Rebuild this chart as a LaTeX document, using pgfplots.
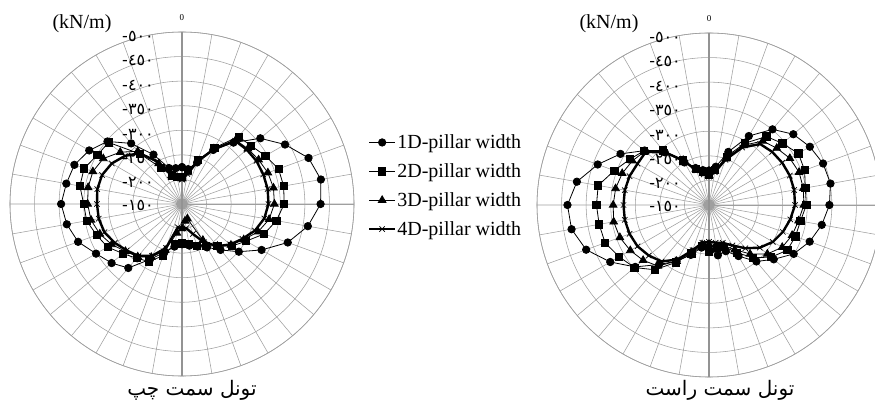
\documentclass[border=0pt]{standalone}
\usepackage{pgfplots}
\pgfplotsset{compat=1.18}
\usepackage{pgfplotstable}
\usepgfplotslibrary{polar}
\usepackage{fontspec}
\setmainfont{Liberation Serif}
\newfontfamily\arabicfont[Script=Arabic]{DejaVu Sans}
\newfontfamily\digitfont{DejaVu Sans}
\TeXXeTstate=1

\pgfplotstableread{
a d1 d2 d3 d4
0 225 205 202 200
10 222 220 215 212
20 240 245 243 242
30 277 282 280 278
40 313 329 320 318
50 358 334 325 322
60 392 346 330 325
70 424 359 336 326
80 437 360 339 327
90 432 358 338 326
100 410 345 330 320
110 379 328 315 308
120 337 301 295 292
130 301 283 280 278
140 272 262 262 262
150 252 248 235 240
160 242 240 182 215
170 236 232 185 200
180 232 230 200 200
190 238 232 210 198
200 255 262 250 245
210 280 285 275 272
220 320 294 290 288
230 337 307 300 297
240 352 325 315 308
250 375 335 328 318
260 388 347 338 322
270 396 350 342 323
280 389 361 344 325
290 383 362 343 323
300 368 349 335 315
310 348 345 314 302
320 311 283 290 285
330 266 235 245 250
340 228 212 212 212
350 224 206 205 205
360 225 205 202 200
}\Ltab

\pgfplotstableread{
a d1 d2 d3 d4
0 220 212 210 208
10 229 222 220 218
20 265 255 250 248
30 312 295 290 285
40 351 332 320 312
50 374 345 330 318
60 387 360 340 322
70 397 357 345 325
80 401 349 345 326
90 395 348 343 325
100 383 339 335 318
110 368 337 330 310
120 349 334 322 300
130 322 315 305 285
140 300 290 280 265
150 270 262 255 245
160 250 240 238 232
170 254 238 235 228
180 240 245 230 225
190 238 235 232 228
200 258 255 252 248
210 282 285 282 278
220 308 322 312 300
230 346 348 325 310
240 382 361 335 318
250 416 375 343 322
260 434 377 347 324
270 438 379 345 324
280 423 379 343 324
290 391 355 338 322
300 358 336 330 318
310 322 322 320 318
320 290 295 292 290
330 250 255 255 255
340 230 228 228 225
350 222 218 216 213
360 220 212 210 208
}\Rtab

\newcommand{\rlab}[3]{\node[anchor=east, xshift=-27pt, yshift=#3, font=\digitfont\fontsize{16}{16}\selectfont, inner sep=1pt] at (axis cs:90,#1) {#2};}
\newcommand{\rlabels}{%
\draw[gray!85, line width=1.1pt] (axis cs:90,350) -- (axis cs:270,350);
\rlab{350}{-٥٠٠}{-4pt}
\rlab{300}{-٤٥٠}{-4pt}
\rlab{250}{-٤٠٠}{-4pt}
\rlab{200}{-٣٥٠}{-4pt}
\rlab{150}{-٣٠٠}{-4pt}
\rlab{100}{-٢٥٠}{-4pt}
\rlab{50}{-٢٠٠}{-3pt}
\rlab{0}{-١٥٠}{-1pt}
\node[anchor=south, yshift=8pt, font=\fontsize{9}{9}\selectfont] at (axis cs:90,350) {0};
}

\pgfplotsset{
  myaxis/.style={
    width=344pt, height=344pt, scale only axis, anchor=center,
    xmin=0, xmax=360, ymin=0, ymax=350,
    xtick={0,10,...,350}, xticklabels={},
    ytick={0,50,...,350}, yticklabels={},
    grid=major, major grid style={draw=gray!75, line width=0.55pt},
    axis line style={draw=gray!75, line width=0.6pt},
    major tick length=0pt, clip=false,
  },
  s1/.style={black, line width=0.8pt, mark=*, mark size=3.7pt},
  s2/.style={black, line width=0.8pt, mark=square*, mark size=3.6pt},
  s3/.style={black, line width=0.8pt, mark=triangle*, mark size=4.4pt},
  s4/.style={black, line width=2.4pt, mark=x, mark size=3.8pt, mark options={line width=0.7pt}},
  legend image code/.code={\draw[mark repeat=2,mark phase=2,#1] plot coordinates {(0pt,0pt) (13pt,0pt) (26pt,0pt)};},
}

\begin{document}
\begin{tikzpicture}
\path[use as bounding box] (0,0) rectangle (875pt,406pt);

\begin{polaraxis}[myaxis, at={(182pt,202pt)},
  legend style={at={(1.04,0.553)}, anchor=west, draw=none, fill=none, inner sep=0pt,
    font=\fontsize{20}{20}\selectfont, row sep=11.5pt, cells={anchor=west},
    nodes={inner sep=1pt}},
  legend cell align=left]
\rlabels
\addplot[s1] table[x expr={90-\thisrow{a}}, y expr={\thisrow{d1}-150}] {\Ltab};
\addplot[s2] table[x expr={90-\thisrow{a}}, y expr={\thisrow{d2}-150}] {\Ltab};
\addplot[s3] table[x expr={90-\thisrow{a}}, y expr={\thisrow{d3}-150}] {\Ltab};
\addplot[s4] table[x expr={90-\thisrow{a}}, y expr={\thisrow{d4}-150}] {\Ltab};
\legend{1D-pillar width, 2D-pillar width, 3D-pillar width, 4D-pillar width}
\end{polaraxis}

\begin{polaraxis}[myaxis, at={(709pt,201pt)}]
\rlabels
\addplot[s1] table[x expr={90-\thisrow{a}}, y expr={\thisrow{d1}-150}] {\Rtab};
\addplot[s2] table[x expr={90-\thisrow{a}}, y expr={\thisrow{d2}-150}] {\Rtab};
\addplot[s3] table[x expr={90-\thisrow{a}}, y expr={\thisrow{d3}-150}] {\Rtab};
\addplot[s4] table[x expr={90-\thisrow{a}}, y expr={\thisrow{d4}-150}] {\Rtab};
\end{polaraxis}

\node[font=\fontsize{20}{20}\selectfont] at (82pt,382pt) {(kN/m)};
\node[font=\fontsize{20}{20}\selectfont] at (609pt,382pt) {(kN/m)};
\node[font=\arabicfont\fontsize{20}{20}\selectfont] at (192pt,16pt) {\beginR تونل سمت چپ\endR};
\node[font=\arabicfont\fontsize{20}{20}\selectfont] at (720pt,16pt) {\beginR تونل سمت راست\endR};
\end{tikzpicture}
\end{document}
